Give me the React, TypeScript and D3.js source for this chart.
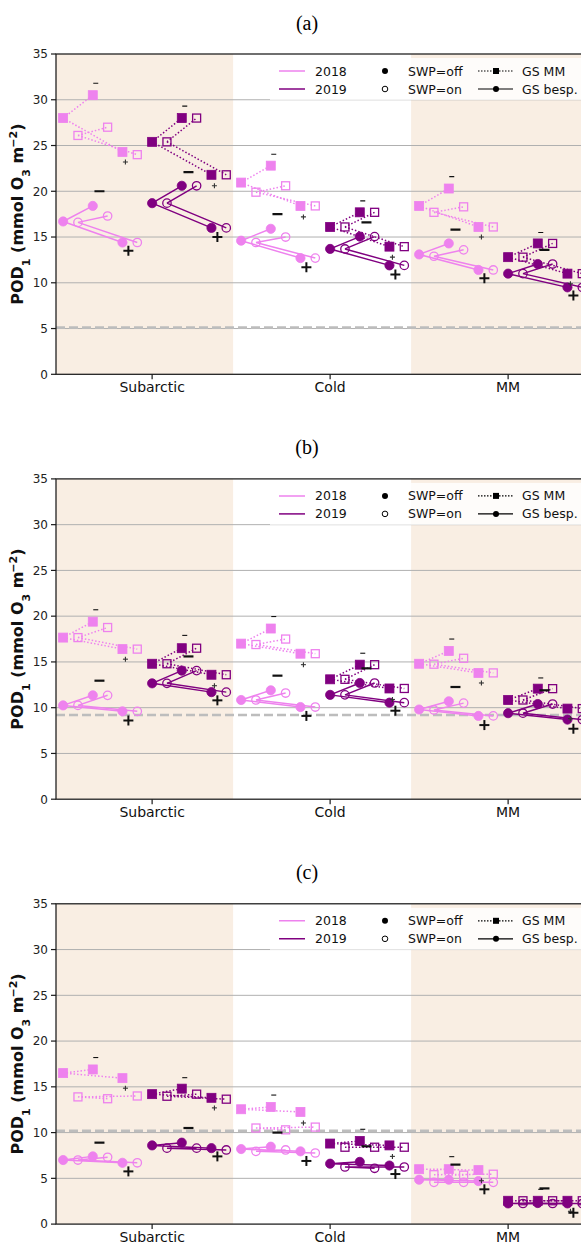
import React from "react";
import * as d3 from "d3";

// ---------- data ----------
const categories = ["Subarctic", "Cold", "MM"];
const years = ["2018", "2019"];
const yearColors = ["#EE82EE", "#800080"];
const yTicks = [0, 5, 10, 15, 20, 25, 30, 35];
const panelLabels = ["(a)", "(b)", "(c)"];
const thresholds = [5.1, 9.2, 10.2];
// rows: Subarctic 2018, Subarctic 2019, Cold 2018, Cold 2019, MM 2018, MM 2019
// values: [reference, up-variant, down-variant]

// Panel (a)
const aMmOff = [[28.0, 30.5, 24.3], [25.4, 28.0, 21.8], [20.95, 22.8, 18.4], [16.1, 17.7, 13.95], [18.4, 20.3, 16.1], [12.8, 14.3, 11.0]];
const aMmOn = [[26.1, 27.0, 24.0], [25.4, 28.0, 21.8], [19.9, 20.6, 18.4], [16.1, 17.7, 13.95], [17.7, 18.3, 16.1], [12.8, 14.3, 11.0]];
const aBespOff = [[16.7, 18.4, 14.4], [18.7, 20.6, 16.0], [14.6, 15.9, 12.7], [13.7, 15.05, 11.9], [13.1, 14.3, 11.4], [11.0, 12.05, 9.5]];
const aBespOn = [[16.6, 17.3, 14.4], [18.7, 20.6, 16.0], [14.4, 15.0, 12.7], [13.7, 15.05, 11.9], [12.9, 13.6, 11.4], [11.0, 12.05, 9.5]];
const aMinusMm = [31.8, 29.3, 24.05, 18.95, 21.6, 15.5];
const aMinusBesp = [20.0, 22.1, 17.5, 16.6, 15.8, 13.6];
const aPlusMm = [23.2, 20.6, 17.2, 12.8, 15.0, 9.9];
const aPlusBesp = [13.5, 15.0, 11.7, 10.9, 10.5, 8.6];

// Panel (b)
const bMmOff = [[17.66, 19.4, 16.4], [14.8, 16.5, 13.6], [17.0, 18.65, 15.9], [13.1, 14.7, 12.1], [14.8, 16.2, 13.8], [10.84, 12.08, 9.9]];
const bMmOn = [[17.66, 18.76, 16.4], [14.8, 16.5, 13.6], [16.9, 17.5, 15.9], [13.1, 14.7, 12.1], [14.75, 15.4, 13.8], [10.84, 12.08, 9.9]];
const bBespOff = [[10.25, 11.35, 9.6], [12.66, 14.05, 11.7], [10.84, 11.9, 10.07], [11.4, 12.7, 10.55], [9.8, 10.7, 9.1], [9.4, 10.4, 8.7]];
const bBespOn = [[10.25, 11.35, 9.6], [12.66, 14.05, 11.7], [10.84, 11.6, 10.07], [11.4, 12.7, 10.55], [9.75, 10.5, 9.1], [9.4, 10.4, 8.7]];
const bMinusMm = [20.7, 17.9, 19.96, 15.95, 17.5, 13.25];
const bMinusBesp = [12.95, 15.6, 13.5, 14.3, 12.26, 11.9];
const bPlusMm = [15.3, 12.4, 14.7, 10.9, 12.7, 8.8];
const bPlusBesp = [8.6, 10.8, 9.1, 9.67, 8.1, 7.7];

// Panel (c)
const cMmOff = [[16.5, 16.9, 15.95], [14.2, 14.8, 13.8], [12.55, 12.8, 12.26], [8.8, 9.08, 8.6], [6.0, 6.0, 5.9], [2.55, 2.55, 2.55]];
const cMmOn = [[13.9, 13.7, 14.0], [13.97, 14.2, 13.65], [10.5, 10.3, 10.6], [8.4, 8.4, 8.4], [5.4, 5.35, 5.45], [2.55, 2.55, 2.55]];
const cBespOff = [[7.0, 7.4, 6.7], [8.6, 8.9, 8.3], [8.2, 8.46, 7.95], [6.6, 6.8, 6.4], [4.85, 4.85, 4.7], [2.26, 2.3, 2.26]];
const cBespOn = [[7.0, 7.3, 6.7], [8.3, 8.3, 8.1], [7.95, 8.1, 7.77], [6.24, 6.1, 6.24], [4.56, 4.56, 4.56], [2.25, 2.25, 2.25]];
const cMinusMm = [18.2, 16.0, 14.1, 10.36, 7.37, 3.8];
const cMinusBesp = [8.9, 10.5, 10.0, 8.5, 6.5, 3.9];
const cPlusMm = [14.85, 12.7, 11.05, 7.4, 4.74, 1.4];
const cPlusBesp = [5.76, 7.4, 6.9, 5.47, 3.8, 1.24];

const panels = [
  { mmOff: aMmOff, mmOn: aMmOn, bespOff: aBespOff, bespOn: aBespOn, minusMm: aMinusMm, minusBesp: aMinusBesp, plusMm: aPlusMm, plusBesp: aPlusBesp },
  { mmOff: bMmOff, mmOn: bMmOn, bespOff: bBespOff, bespOn: bBespOn, minusMm: bMinusMm, minusBesp: bMinusBesp, plusMm: bPlusMm, plusBesp: bPlusBesp },
  { mmOff: cMmOff, mmOn: cMmOn, bespOff: cBespOff, bespOn: cBespOn, minusMm: cMinusMm, minusBesp: cMinusBesp, plusMm: cPlusMm, plusBesp: cPlusBesp },
];

// ---------- layout ----------
const W = 581;
const H = 1246;
const AX_LEFT = 56;
const AX_RIGHT = 590;
const PANEL_TOP0 = 54;
const PANEL_GAP = 424.9;
const PANEL_H = 320.3;
const STEP = 1 / 12;
const BAND_COLOR = "#F9EEE3";
const FONT = "DejaVu Sans, sans-serif";

const x = d3.scaleLinear().domain([-0.54, 2.46]).range([AX_LEFT, AX_RIGHT]);

function Square({ cx, cy, color, filled }: any) {
  const s = filled ? 9 : 8;
  return (
    <rect x={cx - s / 2} y={cy - s / 2} width={s} height={s}
      fill={filled ? color : "none"} stroke={color} strokeWidth={filled ? 0.8 : 1.3} />
  );
}
function Circle({ cx, cy, color, filled }: any) {
  return <circle cx={cx} cy={cy} r={filled ? 4.6 : 4.2} fill={filled ? color : "none"} stroke={color} strokeWidth={filled ? 0.8 : 1.3} />;
}
function Minus({ cx, cy, big }: any) {
  const L = big ? 10 : 5;
  return <line x1={cx - L / 2} x2={cx + L / 2} y1={cy} y2={cy} stroke="#111" strokeWidth={big ? 2.2 : 1.1} />;
}
function Plus({ cx, cy, big }: any) {
  const L = big ? 10 : 5;
  return (
    <g stroke={big ? "#111" : "#333"} strokeWidth={big ? 2 : 1.1}>
      <line x1={cx - L / 2} x2={cx + L / 2} y1={cy} y2={cy} />
      <line x1={cx} x2={cx} y1={cy - L / 2} y2={cy + L / 2} />
    </g>
  );
}

function Panel({ idx }: { idx: number }) {
  const p = panels[idx];
  const top = PANEL_TOP0 + idx * PANEL_GAP;
  const bottom = top + PANEL_H;
  const y = d3.scaleLinear().domain([0, 35]).range([bottom, top]);
  const clipId = `clip${idx}`;

  const groups: any[] = [];
  for (let r = 0; r < 6; r++) {
    const cat = Math.floor(r / 2);
    const yr = r % 2;
    const base = cat - 0.5 + yr * 0.5;
    const color = yearColors[yr];
    const series = [
      { vals: p.mmOff[r], swp: 0, shape: "sq" },
      { vals: p.mmOn[r], swp: 1, shape: "sq" },
      { vals: p.bespOff[r], swp: 0, shape: "ci" },
      { vals: p.bespOn[r], swp: 1, shape: "ci" },
    ];
    const els: any[] = [];
    series.forEach((s, si) => {
      const pts = s.vals.map((v: number, k: number) => [x(base + (2 * k + s.swp) * STEP), y(v)]);
      const path = `M${pts[0][0]},${pts[0][1]}L${pts[1][0]},${pts[1][1]}M${pts[0][0]},${pts[0][1]}L${pts[2][0]},${pts[2][1]}`;
      els.push(
        <path key={`l${si}`} d={path} fill="none" stroke={color} strokeWidth={1.5}
          strokeDasharray={s.shape === "sq" ? "1.5,2" : undefined} />
      );
      pts.forEach((pt: number[], k: number) => {
        const M = s.shape === "sq" ? Square : Circle;
        els.push(<M key={`m${si}-${k}`} cx={pt[0]} cy={pt[1]} color={color} filled={s.swp === 0} />);
      });
    });
    els.push(<Minus key="mm" cx={x(base + 2.2 * STEP)} cy={y(p.minusMm[r])} big={false} />);
    els.push(<Minus key="mb" cx={x(base + 2.45 * STEP)} cy={y(p.minusBesp[r])} big={true} />);
    els.push(<Plus key="pm" cx={x(base + 4.2 * STEP)} cy={y(p.plusMm[r])} big={false} />);
    els.push(<Plus key="pb" cx={x(base + 4.4 * STEP)} cy={y(p.plusBesp[r])} big={true} />);
    groups.push(<g key={`g${r}`}>{els}</g>);
  }

  const legTop = top;
  const row1 = legTop + 17;
  const row2 = legTop + 35;

  return (
    <g>
      <defs>
        <clipPath id={clipId}>
          <rect x={AX_LEFT} y={top} width={AX_RIGHT - AX_LEFT} height={PANEL_H} />
        </clipPath>
      </defs>
      <text x={307} y={top - 24.5} textAnchor="middle" fontFamily="Liberation Serif, Times New Roman, serif" fontSize={20}>
        {panelLabels[idx]}
      </text>
      <g clipPath={`url(#${clipId})`}>
        {categories.map((c, i) =>
          i % 2 === 0 ? (
            <rect key={c} x={x(i - 0.545)} y={top} width={x(i + 0.455) - x(i - 0.545)} height={PANEL_H} fill={BAND_COLOR} />
          ) : null
        )}
        {yTicks.filter((t) => t > 0 && t < 35).map((t) => (
          <line key={t} x1={AX_LEFT} x2={AX_RIGHT} y1={y(t)} y2={y(t)} stroke="#b0b0b0" strokeWidth={1} />
        ))}
        <line x1={AX_LEFT} x2={AX_RIGHT} y1={y(thresholds[idx])} y2={y(thresholds[idx])}
          stroke="#bdbdbd" strokeWidth={2.6} strokeDasharray="9,4" />
        {groups}
        {/* legend */}
        <rect x={270} y={legTop + 4} width={AX_RIGHT - 272} height={42} fill="#ffffff" fillOpacity={0.8} />
        <g fontFamily={FONT} fontSize={12.5} fill="#111">
          <line x1={279} x2={305} y1={row1} y2={row1} stroke={yearColors[0]} strokeWidth={1.5} />
          <text x={315} y={row1 + 4.5}>{years[0]}</text>
          <line x1={279} x2={305} y1={row2} y2={row2} stroke={yearColors[1]} strokeWidth={1.5} />
          <text x={315} y={row2 + 4.5}>{years[1]}</text>
          <circle cx={385} cy={row1} r={3} fill="#000" />
          <text x={408} y={row1 + 4.5}>SWP=off</text>
          <circle cx={385} cy={row2} r={2.8} fill="none" stroke="#000" strokeWidth={1} />
          <text x={408} y={row2 + 4.5}>SWP=on</text>
          <line x1={478} x2={513} y1={row1} y2={row1} stroke="#000" strokeWidth={1.2} strokeDasharray="1.5,1.5" />
          <rect x={496 - 3} y={row1 - 3} width={6} height={6} fill="#000" />
          <text x={522} y={row1 + 4.5}>GS MM</text>
          <line x1={478} x2={513} y1={row2} y2={row2} stroke="#000" strokeWidth={1.2} />
          <circle cx={496} cy={row2} r={3} fill="#000" />
          <text x={522} y={row2 + 4.5}>GS besp.</text>
        </g>
      </g>
      {/* spines */}
      <rect x={AX_LEFT} y={top} width={AX_RIGHT - AX_LEFT} height={PANEL_H} fill="none" stroke="#1a1a1a" strokeWidth={1.25} />
      {/* y ticks */}
      <g fontFamily={FONT} fontSize={12} fill="#222">
        {yTicks.map((t) => (
          <g key={t}>
            <line x1={AX_LEFT - 5} x2={AX_LEFT} y1={y(t)} y2={y(t)} stroke="#1a1a1a" strokeWidth={1.2} />
            <text x={AX_LEFT - 8} y={y(t)} dy="0.36em" textAnchor="end">{t}</text>
          </g>
        ))}
      </g>
      {/* x ticks */}
      <g fontFamily={FONT} fontSize={14} fill="#111">
        {categories.map((c, i) => (
          <g key={c}>
            <line x1={x(i)} x2={x(i)} y1={bottom} y2={bottom + 5} stroke="#1a1a1a" strokeWidth={1.2} />
            <text x={x(i)} y={bottom + 18} textAnchor="middle">{c}</text>
          </g>
        ))}
      </g>
      {/* y label */}
      <text transform={`translate(${23},${(top + bottom) / 2}) rotate(-90)`} textAnchor="middle"
        fontFamily={FONT} fontWeight="bold" fontSize={16} fill="#111">
        <tspan>POD</tspan>
        <tspan baselineShift="sub" fontSize={11}>1</tspan>
        <tspan> (mmol O</tspan>
        <tspan baselineShift="sub" fontSize={11}>3</tspan>
        <tspan> m</tspan>
        <tspan baselineShift="super" fontSize={11} dx={-1}>−2</tspan>
        <tspan>)</tspan>
      </text>
    </g>
  );
}

export default function App() {
  return (
    <svg width={W} height={H} viewBox={`0 0 ${W} ${H}`}
      style={{ position: "absolute", left: 0, top: 0, background: "#fff", display: "block" }}>
      <rect x={0} y={0} width={W} height={H} fill="#fff" />
      {[0, 1, 2].map((i) => <Panel key={i} idx={i} />)}
    </svg>
  );
}
